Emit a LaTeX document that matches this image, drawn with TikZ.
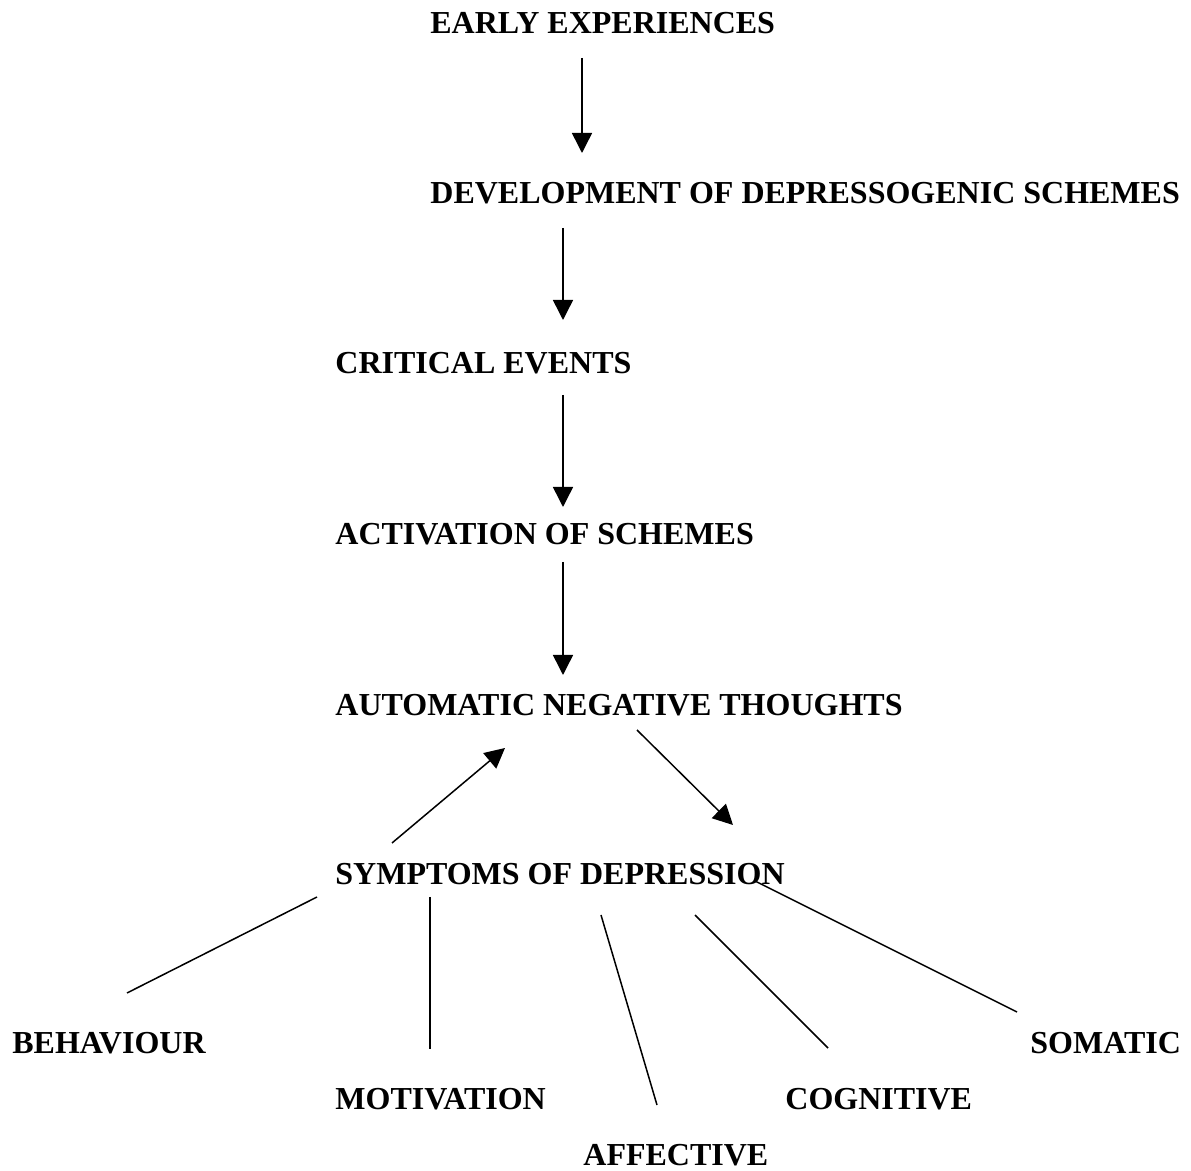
\documentclass[tikz,border=0pt]{standalone}
\usepackage{fontspec}
\setmainfont{Liberation Serif}
\usetikzlibrary{arrows.meta}

\begin{document}
\begin{tikzpicture}[x=0.5pt, y=-0.5pt,
      block_noborder/.style ={rectangle, draw=none, fill=none, anchor=west,
        inner sep=0pt, font=\fontsize{16}{19}\selectfont\bfseries},
      line/.style ={draw, line width=0.75pt, -{Triangle[length=10pt,width=10pt]}},
      link/.style ={draw, line width=0.75pt}]
    \useasboundingbox (0,0) rectangle (1191,1171);
    %
    % 1. the labels, top to bottom
    \node [block_noborder] (early) at (430,23) {EARLY EXPERIENCES};
    \node [block_noborder] (develop) at (430,193) {DEVELOPMENT OF DEPRESSOGENIC SCHEMES};
    \node [block_noborder] (critical) at (335,363) {CRITICAL EVENTS};
    \node [block_noborder] (activation) at (335,534) {ACTIVATION OF SCHEMES};
    \node [block_noborder] (automatic) at (335,705) {AUTOMATIC NEGATIVE THOUGHTS};
    \node [block_noborder] (symptoms) at (335,874) {SYMPTOMS OF DEPRESSION};
    % symptom groups
    \node [block_noborder] (behaviour) at (12,1043) {BEHAVIOUR};
    \node [block_noborder] (somatic) at (1030,1043) {SOMATIC};
    \node [block_noborder] (motivation) at (335,1099) {MOTIVATION};
    \node [block_noborder] (cognitive) at (785,1099) {COGNITIVE};
    \node [block_noborder] (affective) at (583,1155) {AFFECTIVE};
    %
    % 2. end points of the connectors
    \coordinate (early_out) at (582,58);
    \coordinate (develop_in) at (582,153);
    \coordinate (develop_out) at (563,228);
    \coordinate (critical_in) at (563,320);
    \coordinate (critical_out) at (563,395);
    \coordinate (activation_in) at (563,507);
    \coordinate (activation_out) at (563,562);
    \coordinate (automatic_in) at (563,675);
    \coordinate (symptoms_up) at (392,843);
    \coordinate (automatic_back) at (505,748);
    \coordinate (automatic_out) at (637,730);
    \coordinate (symptoms_in) at (733,825);
    %
    \coordinate (beh_top) at (317,897);
    \coordinate (beh_end) at (127,993);
    \coordinate (mot_top) at (430,897);
    \coordinate (mot_end) at (430,1049);
    \coordinate (aff_top) at (601,915);
    \coordinate (aff_end) at (657,1105);
    \coordinate (cog_top) at (695,915);
    \coordinate (cog_end) at (828,1048);
    \coordinate (som_top) at (755,881);
    \coordinate (som_end) at (1017,1012);
    %
    % 3. connecting with paths
    \begin{scope}[every path/.style=line]
      \path (early_out) -- (develop_in);
      \path (develop_out) -- (critical_in);
      \path (critical_out) -- (activation_in);
      \path (activation_out) -- (automatic_in);
      %
      \path (symptoms_up) -- (automatic_back);
      \path (automatic_out) -- (symptoms_in);
    \end{scope}
    \begin{scope}[every path/.style=link]
      \path (beh_top) -- (beh_end);
      \path (mot_top) -- (mot_end);
      \path (aff_top) -- (aff_end);
      \path (cog_top) -- (cog_end);
      \path (som_top) -- (som_end);
    \end{scope}
  \end{tikzpicture}
\end{document}
